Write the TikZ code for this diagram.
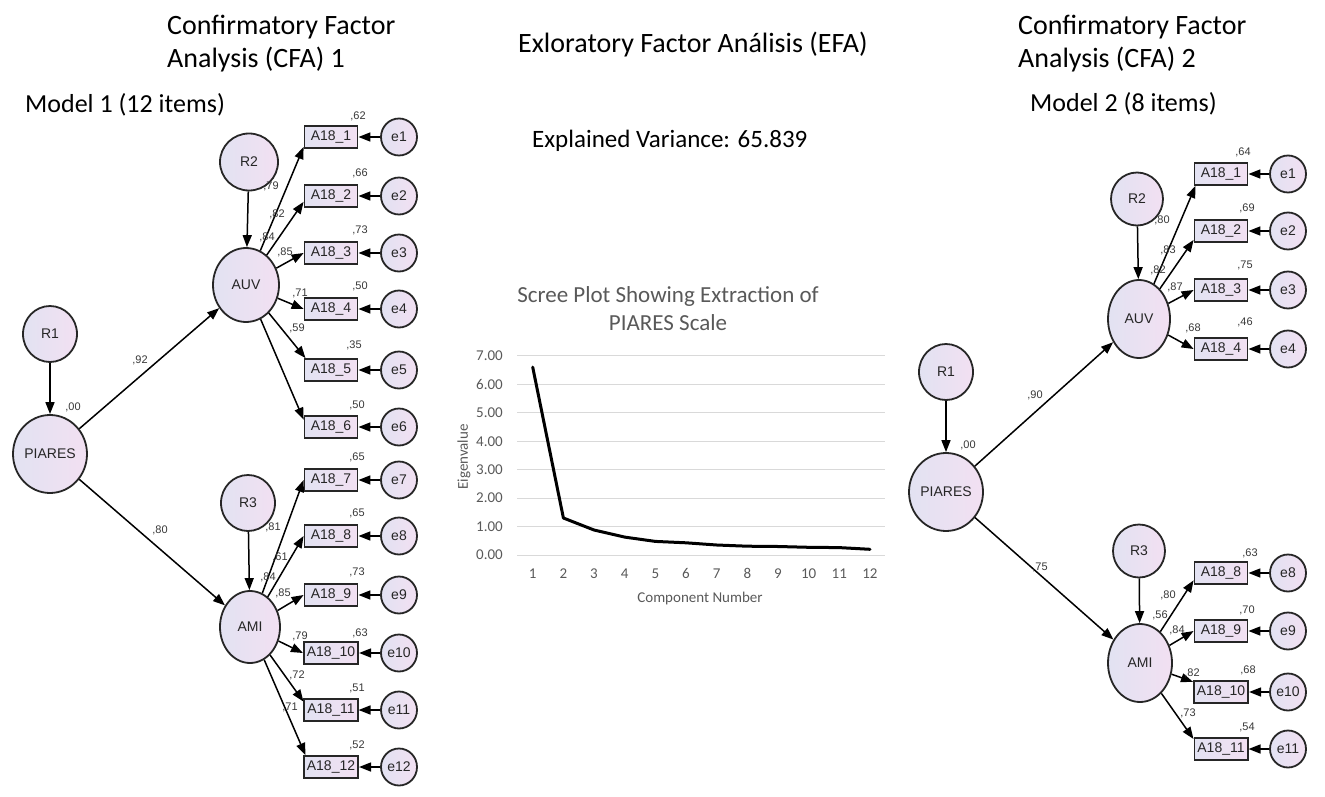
\documentclass[tikz,border=0pt]{standalone}
\usepackage{fontspec}
\setmainfont{Liberation Sans}
\newfontfamily\calfont{Carlito}
\usetikzlibrary{shapes.geometric,arrows.meta}
\definecolor{lavA}{RGB}{226,226,242}
\definecolor{lavB}{RGB}{242,224,242}
\definecolor{lblgray}{RGB}{55,55,55}
\definecolor{chartgray}{RGB}{89,89,89}
\definecolor{gridgray}{RGB}{217,217,217}
\tikzset{
  semLat/.style={ellipse, draw=black!85, line width=1.8pt, left color=lavA, right color=lavB,
    inner sep=0pt, font=\fontsize{14}{14}\selectfont, text=black!85},
  semObs/.style={rectangle, draw=black!85, line width=1.8pt, left color=lavA, right color=lavB,
    minimum width=53pt, minimum height=22pt, inner xsep=3pt, inner ysep=0pt,
    font=\fontsize{14}{14}\selectfont, text=black!85},
  semErr/.style={semLat, minimum width=36pt, minimum height=37pt},
  semArr/.style={-{Triangle[length=12pt,width=9pt]}, line width=1.5pt, black},
  semLab/.style={font=\fontsize{11}{11}\selectfont, text=lblgray, inner sep=0pt},
  ttl/.style={font=\calfont\fontsize{28}{33}\selectfont, anchor=base west, inner sep=0pt},
  subttl/.style={font=\calfont\fontsize{26}{30}\selectfont, anchor=base west, inner sep=0pt},
  chtxt/.style={font=\calfont\fontsize{15}{15}\selectfont, text=chartgray, inner sep=0pt}
}
\begin{document}
\begin{tikzpicture}[x=1pt,y=-1pt]
\useasboundingbox (0,0) rectangle (1325,797);

% ---------- titles ----------
\node[ttl] (t1a) at (167,35) {Confirmatory Factor};
\node[ttl] (t1b) at (167,68) {Analysis (CFA) 1};
\node[subttl] (m1) at (25,113) {Model 1 (12 items)};
\node[ttl] (t2) at (518,53) {Exloratory Factor Análisis (EFA)};
\node[font=\calfont\fontsize{25}{25}\selectfont, anchor=base west, inner sep=0pt] (ev) at (532,147) {Explained Variance: 65.839};
\node[ttl] (t3a) at (1018,35) {Confirmatory Factor};
\node[ttl] (t3b) at (1018,68) {Analysis (CFA) 2};
\node[subttl] (m2) at (1030,112) {Model 2 (8 items)};

% ---------- left model ----------
\node[semLat, minimum width=54pt, minimum height=56pt] (R1L) at (50,334) {R1};
\node[semLat, minimum width=74pt, minimum height=78pt] (PIL) at (50,454) {PIARES};
\node[semLat, minimum width=58pt, minimum height=57pt] (R2L) at (249,162) {R2};
\node[semLat, minimum width=66pt, minimum height=74pt] (AUVL) at (246,285) {AUV};
\node[semLat, minimum width=54pt, minimum height=56pt] (R3L) at (248,503) {R3};
\node[semLat, minimum width=60pt, minimum height=72pt] (AMIL) at (250,627) {AMI};

\foreach \i/\y in {1/137,2/196,3/253,4/309,5/370,6/427,7/480,8/536,9/595,10/653,11/710,12/767}{
  \node[semObs] (LA\i) at (331,\y) {A18\_\i};
  \node[semErr] (LE\i) at (399,\y) {e\i};
  \draw[semArr] (LE\i) -- (LA\i);
}
\draw[semArr] (R1L) -- (PIL);
\draw[semArr] (R2L) -- (AUVL);
\draw[semArr] (R3L) -- (AMIL);
\draw[semArr] (PIL) -- (AUVL);
\draw[semArr] (PIL) -- (AMIL);
\foreach \i/\a in {1/200,2/192,3/180,4/180,5/155,6/165}{
  \draw[semArr] (AUVL) -- (LA\i.\a);
}
\foreach \i/\a in {7/180,8/180,9/180,10/180,11/163,12/155}{
  \draw[semArr] (AMIL) -- (LA\i.\a);
}
% labels left
\foreach \t/\x/\y [count=\n] in {00/73/407, 92/140/360, 80/160/530,
  79/271/186, 82/277/214, 84/267/237, 85/285/252, 71/300/293, 59/297/328,
  62/358/116, 66/360/173, 73/360/230, 50/360/286, 35/354/345, 50/357/405,
  65/357/457, 65/357/513, 73/357/572,
  81/273/527, 61/280/557, 84/268/577, 85/283/593, 79/300/636, 63/360/633,
  72/297/675, 51/357/688, 71/290/707, 52/357/745}{
  \node[semLab] (lL\n) at (\x,\y) {,\t};
}

% ---------- right model ----------
\node[semLat, minimum width=54pt, minimum height=56pt] (R1R) at (946,372) {R1};
\node[semLat, minimum width=74pt, minimum height=78pt] (PIR) at (946,492) {PIARES};
\node[semLat, minimum width=52pt, minimum height=53pt] (R2R) at (1137,199) {R2};
\node[semLat, minimum width=62pt, minimum height=78pt] (AUVR) at (1139,319) {AUV};
\node[semLat, minimum width=52pt, minimum height=53pt] (R3R) at (1139,551) {R3};
\node[semLat, minimum width=64pt, minimum height=78pt] (AMIR) at (1140,663) {AMI};

\foreach \i/\y in {1/174,2/231,3/290,4/349,8/573,9/631,10/692,11/749}{
  \node[semObs] (RA\i) at (1221,\y) {A18\_\i};
  \node[semErr] (RE\i) at (1288,\y) {e\i};
  \draw[semArr] (RE\i) -- (RA\i);
}
\draw[semArr] (R1R) -- (PIR);
\draw[semArr] (R2R) -- (AUVR);
\draw[semArr] (R3R) -- (AMIR);
\draw[semArr] (PIR) -- (AUVR);
\draw[semArr] (PIR) -- (AMIR);
\foreach \i/\a in {1/205,2/198,3/180,4/180}{
  \draw[semArr] (AUVR) -- (RA\i.\a);
}
\foreach \i/\a in {8/195,9/180,10/160,11/160}{
  \draw[semArr] (AMIR) -- (RA\i.\a);
}
\foreach \t/\x/\y [count=\n] in {00/968/445, 90/1035/395, 75/1040/567,
  80/1162/220, 83/1168/250, 82/1158/270, 87/1175/287, 68/1193/328,
  64/1243/152, 69/1247/208, 75/1245/265, 46/1245/322,
  80/1168/595, 56/1160/615, 84/1177/630, 82/1192/673, 73/1188/713,
  63/1250/553, 70/1247/610, 68/1248/670, 54/1247/727}{
  \node[semLab] (lR\n) at (\x,\y) {,\t};
}

% ---------- scree plot ----------
\node[font=\calfont\fontsize{23}{28}\selectfont, text=chartgray, anchor=base, inner sep=0pt] (sc1) at (668,302) {Scree Plot Showing Extraction of};
\node[font=\calfont\fontsize{23}{28}\selectfont, text=chartgray, anchor=base, inner sep=0pt] (sc2) at (668,330) {PIARES Scale};
\foreach \k in {0,...,7}{
  \draw[gridgray, line width=1pt] (517,{555-28.43*\k}) -- (885,{555-28.43*\k});
  \node[chtxt, anchor=east] (yl\k) at (503,{555-28.43*\k}) {\k.00};
}
\foreach \n in {1,...,12}{
  \node[chtxt, anchor=base] (xl\n) at ({532.7+30.66*(\n-1)},578) {\n};
}
\node[chtxt, rotate=90] (ylab) at (464,457) {Eigenvalue};
\node[chtxt] (xlab) at (700,598) {Component Number};
\draw[black, line width=3pt, line join=round, line cap=round]
  (532.7,367.1) -- (563.4,518.0) -- (594.0,530.0) -- (624.7,537.1) -- (655.3,541.4)
  -- (686.0,542.8) -- (716.7,545.0) -- (747.3,546.2) -- (778.0,546.5)
  -- (808.6,547.3) -- (839.3,547.6) -- (870.0,549.3);
\end{tikzpicture}
\end{document}
